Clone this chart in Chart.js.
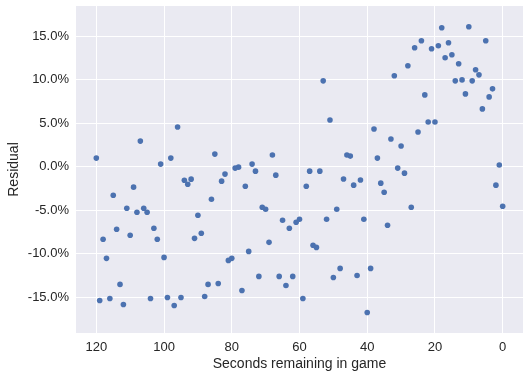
<!DOCTYPE html>
<html>
<head>
<meta charset="utf-8">
<script src="https://cdn.jsdelivr.net/npm/chart.js@4.4.1/dist/chart.umd.min.js"></script>
<style>
  html, body { margin: 0; padding: 0; background: #ffffff; }
  #wrap { width: 530px; height: 379px; position: relative; }
</style>
</head>
<body>
<div id="wrap"><canvas id="c" width="530" height="379"></canvas></div>
<script>
// Seconds remaining in game (x values)
const seconds = [
  0, 1, 2, 3, 4, 5, 6, 7, 8, 9,
  10, 11, 12, 13, 14, 15, 16, 17, 18, 19,
  20, 21, 22, 23, 24, 25, 26, 27, 28, 29,
  30, 31, 32, 33, 34, 35, 36, 37, 38, 39,
  40, 41, 42, 43, 44, 45, 46, 47, 48, 49,
  50, 51, 52, 53, 54, 55, 56, 57, 58, 59,
  60, 61, 62, 63, 64, 65, 66, 67, 68, 69,
  70, 71, 72, 73, 74, 75, 76, 77, 78, 79,
  80, 81, 82, 83, 84, 85, 86, 87, 88, 89,
  90, 91, 92, 93, 94, 95, 96, 97, 98, 99,
  100, 101, 102, 103, 104, 105, 106, 107, 108, 109,
  110, 111, 112, 113, 114, 115, 116, 117, 118, 119,
  120
];

// Residual (fraction) for each second above
const residuals = [
  -0.0454, 0.0020, -0.0211, 0.0897, 0.0804, 0.1450, 0.0666, 0.1058, 0.1116, 0.0989,
  0.1612, 0.0839, 0.1000, 0.1185, 0.0989, 0.1289, 0.1427, 0.1254, 0.1600, 0.1393,
  0.0516, 0.1358, 0.0516, 0.0827, 0.1450, 0.0400, 0.1370, -0.0465, 0.1162, -0.0073,
  0.0239, -0.0015, 0.1047, 0.0320, -0.0673, -0.0292, -0.0188, 0.0100, 0.0435, -0.1169,
  -0.1677, -0.0603, -0.0152, -0.1250, -0.0211, 0.0123, 0.0135, -0.0140, -0.1169, -0.0488,
  -0.1273, 0.0539, -0.0603, 0.0989, -0.0050, -0.0927, -0.0903, -0.0050, -0.0223, -0.1515,
  -0.0603, -0.0638, -0.1261, -0.0707, -0.1365, -0.0615, -0.1261, -0.0096, 0.0135, -0.0869,
  -0.0488, -0.0465, -0.1261, -0.0050, 0.0031, -0.0973, -0.0223, -0.1423, -0.0004, -0.0015,
  -0.1053, -0.1077, -0.0084, -0.0165, -0.1342, 0.0146, -0.0373, -0.1353, -0.1492, -0.0765,
  -0.0557, -0.0823, -0.0142, -0.0200, -0.0154, -0.1503, 0.0458, -0.1596, 0.0100, -0.1503,
  -0.1042, 0.0031, -0.0834, -0.0707, -0.1515, -0.0523, -0.0477, 0.0296, -0.0523, -0.0234,
  -0.0788, -0.0477, -0.1584, -0.1353, -0.0719, -0.0327, -0.1515, -0.1053, -0.0834, -0.1538,
  0.0100
];

const xTicks = [120, 100, 80, 60, 40, 20, 0];
const yTicks = [-0.15, -0.10, -0.05, 0.00, 0.05, 0.10, 0.15];

const points = seconds.map((s, i) => ({ x: s, y: residuals[i] }));

const plotBg = {
  id: 'plotBg',
  beforeDraw(chart) {
    const { ctx, chartArea } = chart;
    ctx.save();
    ctx.fillStyle = '#EAEAF2';
    ctx.fillRect(chartArea.left, chartArea.top, chartArea.right - chartArea.left, chartArea.bottom - chartArea.top);
    ctx.restore();
  }
};

const FONT = "'Liberation Sans', Arial, sans-serif";
const TXT = '#262626';

new Chart(document.getElementById('c'), {
  type: 'scatter',
  data: {
    datasets: [{
      data: points,
      backgroundColor: '#4C72B0',
      borderColor: '#4C72B0',
      borderWidth: 0,
      pointRadius: 2.8,
      pointHoverRadius: 2.8
    }]
  },
  plugins: [plotBg],
  options: {
    responsive: false,
    animation: false,
    events: [],
    layout: { padding: { left: 0, right: 7, top: 6, bottom: 0 } },
    plugins: { legend: { display: false }, tooltip: { enabled: false } },
    scales: {
      x: {
        type: 'linear',
        reverse: true,
        min: -6,
        max: 126,
        afterBuildTicks: (scale) => { scale.ticks = xTicks.map(v => ({ value: v })); },
        afterFit: (scale) => { scale.height = 46; },
        grid: { color: '#ffffff', lineWidth: 1, drawTicks: false },
        border: { display: false },
        ticks: {
          color: TXT,
          font: { family: FONT, size: 13 },
          padding: 7,
          maxRotation: 0,
          callback: (v) => String(v)
        },
        title: {
          display: true,
          text: 'Seconds remaining in game',
          color: TXT,
          font: { family: FONT, size: 14 },
          padding: { top: 0, bottom: 6 }
        }
      },
      y: {
        type: 'linear',
        min: -0.1912,
        max: 0.185,
        afterBuildTicks: (scale) => { scale.ticks = yTicks.map(v => ({ value: v })); },
        afterFit: (scale) => { scale.width = 76; scale.paddingTop = 0; scale.paddingBottom = 0; },
        grid: { color: '#ffffff', lineWidth: 1, drawTicks: false },
        border: { display: false },
        ticks: {
          color: TXT,
          font: { family: FONT, size: 13 },
          padding: 7,
          callback: (v) => (v * 100).toFixed(1) + '%'
        },
        title: {
          display: true,
          text: 'Residual',
          color: TXT,
          font: { family: FONT, size: 14 },
          padding: { top: 6, bottom: 0 }
        }
      }
    }
  }
});
</script>
</body>
</html>
